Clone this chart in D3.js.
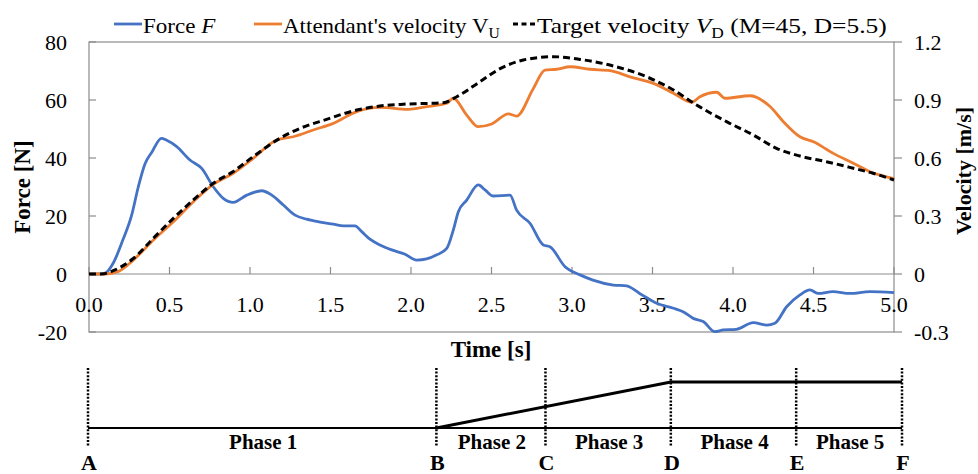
<!DOCTYPE html>
<html><head><meta charset="utf-8">
<script src="https://cdn.jsdelivr.net/npm/d3@7"></script>
<style>
body{margin:0;background:#fff}
text{font-family:"Liberation Serif","Times New Roman",serif;fill:#000}
</style>
</head><body>
<svg id="c" width="978" height="474"></svg>
<script>
// ---- data ----
const forceTime = [0,0.05,0.1,0.15,0.21,0.265,0.306,0.348,0.39,0.45,0.48,0.545,0.627,0.70,0.772,0.834,0.896,0.98,1.073,1.135,1.207,1.28,1.352,1.435,1.517,1.58,1.652,1.694,1.745,1.807,1.88,1.963,2.035,2.097,2.16,2.222,2.263,2.294,2.346,2.418,2.46,2.511,2.615,2.656,2.739,2.822,2.863,2.957,3.05,3.13,3.257,3.34,3.42,3.526,3.63,3.69,3.753,3.815,3.888,3.94,4.02,4.126,4.21,4.26,4.333,4.416,4.478,4.53,4.62,4.727,4.85,5.0];
const forceN    = [0,0,0.3,3.7,11.7,20.3,30,38,42,46.8,46.2,43.9,39.3,36.4,30.1,26.1,24.7,27.2,28.7,27.2,23.8,20.3,18.9,17.9,17.2,16.6,16.6,14.6,12,10,8.3,6.8,4.8,5.2,6.6,8.8,15.2,21.5,25.5,30.7,29,26.9,27.2,22,17.5,10,9.4,2.5,-0.3,-2.1,-3.8,-4.1,-6.7,-10.1,-11.8,-13,-15.3,-16.4,-19.9,-19.3,-19.1,-16.8,-17.6,-17,-11.3,-7.2,-5.5,-6.7,-6.1,-6.7,-6.1,-6.4];

const velTime = [0,0.1,0.18,0.275,0.40,0.524,0.648,0.772,0.896,1.02,1.166,1.269,1.393,1.517,1.663,1.807,1.983,2.097,2.222,2.263,2.346,2.418,2.501,2.605,2.656,2.76,2.832,2.905,2.988,3.112,3.236,3.36,3.505,3.63,3.743,3.795,3.899,3.95,4.106,4.23,4.313,4.416,4.5,4.623,4.747,4.851,5.0];
const velAttendant = [0,0,0.012,0.072,0.176,0.27,0.374,0.464,0.521,0.598,0.693,0.710,0.745,0.779,0.84,0.862,0.852,0.866,0.883,0.909,0.822,0.762,0.776,0.828,0.817,0.96,1.055,1.059,1.072,1.059,1.052,1.02,0.986,0.935,0.888,0.917,0.94,0.909,0.922,0.866,0.788,0.71,0.684,0.624,0.573,0.529,0.493];

const tgtTime = [0,0.08,0.15,0.275,0.40,0.524,0.648,0.772,0.896,1.02,1.186,1.31,1.476,1.663,1.807,1.973,2.2,2.284,2.429,2.553,2.698,2.884,3.05,3.257,3.464,3.63,3.774,3.96,4.126,4.27,4.416,4.58,4.747,4.87,5.0];
const velTarget = [0,0,0.017,0.08,0.185,0.288,0.383,0.469,0.53,0.607,0.702,0.753,0.80,0.848,0.869,0.879,0.886,0.917,0.995,1.062,1.107,1.124,1.11,1.076,1.02,0.952,0.874,0.788,0.719,0.65,0.61,0.581,0.547,0.521,0.486];

const timeTicks = [0,0.5,1.0,1.5,2.0,2.5,3.0,3.5,4.0,4.5,5.0];
const forceTicks = [-20,0,20,40,60,80];
const velTicks = [-0.3,0,0.3,0.6,0.9,1.2];

const phaseLetters = ["A","B","C","D","E","F"];
const phaseBounds = [0,2.14,2.81,3.58,4.35,5.0];
const phaseNames = ["Phase 1","Phase 2","Phase 3","Phase 4","Phase 5"];
const profileTime = [2.14,3.58,5.0];
const profileLevel = [0,1,1];

// ---- layout ----
const svg = d3.select("#c");
const L=89,R=894,T=42,B=332;
const x = d3.scaleLinear().domain([0,5]).range([L,R]);
const yF = d3.scaleLinear().domain([-20,80]).range([B,T]);
const yV = d3.scaleLinear().domain([-0.3,1.2]).range([B,T]);
const grey="#8c8c8c";
const FS=22;

// plot frame
svg.append("rect").attr("x",L).attr("y",T).attr("width",R-L).attr("height",B-T)
  .attr("fill","none").attr("stroke",grey).attr("stroke-width",1.2);

// left axis ticks (inside) + labels
const gl = svg.append("g");
forceTicks.forEach(v=>{
  gl.append("line").attr("x1",L).attr("x2",L+7).attr("y1",yF(v)).attr("y2",yF(v)).attr("stroke",grey).attr("stroke-width",1.2);
  gl.append("text").attr("x",67).attr("y",yF(v)).attr("dy","0.35em").attr("text-anchor","end").attr("font-size",FS)
    .text(String(v));
});
// right axis ticks (outside) + labels
velTicks.forEach(v=>{
  gl.append("line").attr("x1",R).attr("x2",R+8).attr("y1",yV(v)).attr("y2",yV(v)).attr("stroke",grey).attr("stroke-width",1.2);
  gl.append("text").attr("x",914).attr("y",yV(v)).attr("dy","0.35em").attr("text-anchor","start").attr("font-size",FS)
    .text(v===0?"0":v.toFixed(1));
});
// zero line x axis
const y0=yF(0);
svg.append("line").attr("x1",L).attr("x2",R).attr("y1",y0).attr("y2",y0).attr("stroke",grey).attr("stroke-width",1.2);
timeTicks.forEach(t=>{
  svg.append("line").attr("x1",x(t)).attr("x2",x(t)).attr("y1",y0).attr("y2",y0-7).attr("stroke",grey).attr("stroke-width",1.2);
  svg.append("text").attr("x",x(t)).attr("y",312).attr("text-anchor","middle").attr("font-size",FS).text(t.toFixed(1));
});

// axis titles
svg.append("text").attr("transform","translate(30,187) rotate(-90)").attr("text-anchor","middle")
  .attr("font-size",23).attr("font-weight","bold").text("Force [N]");
svg.append("text").attr("transform","translate(971,171) rotate(-90)").attr("text-anchor","middle")
  .attr("font-size",22).attr("font-weight","bold").text("Velocity [m/s]");
svg.append("text").attr("x",491).attr("y",357).attr("text-anchor","middle")
  .attr("font-size",23).attr("font-weight","bold").text("Time [s]");

// series
const lineF = d3.line().x((d,i)=>x(forceTime[i])).y(d=>yF(d)).curve(d3.curveMonotoneX);
const lineVa = d3.line().x((d,i)=>x(velTime[i])).y(d=>yV(d)).curve(d3.curveMonotoneX);
const lineVt = d3.line().x((d,i)=>x(tgtTime[i])).y(d=>yV(d)).curve(d3.curveMonotoneX);
svg.append("path").attr("d",lineF(forceN)).attr("fill","none").attr("stroke","#4472C4").attr("stroke-width",2.8).attr("stroke-linejoin","round");
svg.append("path").attr("d",lineVa(velAttendant)).attr("fill","none").attr("stroke","#ED7D31").attr("stroke-width",2.8).attr("stroke-linejoin","round");
svg.append("path").attr("d",lineVt(velTarget)).attr("fill","none").attr("stroke","#000").attr("stroke-width",3).attr("stroke-dasharray","7,4");

// legend (texts stretched horizontally to the reference widths)
const lg = svg.append("g");
function fit(sel, x0, width){
  const w = sel.node().getBBox().width;
  sel.attr("x",0).attr("transform",`translate(${x0},33) scale(${width/w},1)`);
}
lg.append("line").attr("x1",114).attr("x2",142).attr("y1",24).attr("y2",24).attr("stroke","#4472C4").attr("stroke-width",2.8);
const t1 = lg.append("text").attr("font-size",FS);
t1.append("tspan").text("Force ");
t1.append("tspan").attr("font-style","italic").text("F");
fit(t1,143,73);
lg.append("line").attr("x1",254).attr("x2",282).attr("y1",24).attr("y2",24).attr("stroke","#ED7D31").attr("stroke-width",2.8);
const t2 = lg.append("text").attr("font-size",FS);
t2.append("tspan").text("Attendant's velocity V");
t2.append("tspan").attr("font-size",15).attr("dy",5).text("U");
fit(t2,283,217);
lg.append("line").attr("x1",513).attr("x2",536).attr("y1",24).attr("y2",24).attr("stroke","#000").attr("stroke-width",3).attr("stroke-dasharray","5,3.5");
const t3 = lg.append("text").attr("font-size",FS);
t3.append("tspan").text("Target velocity ");
t3.append("tspan").attr("font-style","italic").text("V");
t3.append("tspan").attr("font-size",15).attr("dy",5).text("D");
t3.append("tspan").attr("dy",-5).text(" (M=45, D=5.5)");
fit(t3,537,350);

// phase diagram
const xp = d3.scaleLinear().domain([0,5]).range([88,902]);
const yp = d3.scaleLinear().domain([0,1]).range([428,382]);
const pg = svg.append("g");
pg.append("line").attr("x1",xp(0)).attr("x2",xp(5)).attr("y1",yp(0)).attr("y2",yp(0)).attr("stroke","#000").attr("stroke-width",2);
pg.append("path").attr("d",d3.line().x((d,i)=>xp(profileTime[i])).y(d=>yp(d))(profileLevel))
  .attr("fill","none").attr("stroke","#000").attr("stroke-width",3);
phaseBounds.forEach((t,i)=>{
  pg.append("line").attr("x1",xp(t)).attr("x2",xp(t)).attr("y1",368).attr("y2",447)
    .attr("stroke","#000").attr("stroke-width",2.5).attr("stroke-dasharray","2,1.6");
  pg.append("text").attr("x",xp(t)+1).attr("y",470).attr("text-anchor","middle").attr("font-size",22)
    .attr("font-weight","bold").text(phaseLetters[i]);
});
phaseNames.forEach((n,i)=>{
  pg.append("text").attr("x",(xp(phaseBounds[i])+xp(phaseBounds[i+1]))/2+1).attr("y",449).attr("text-anchor","middle")
    .attr("font-size",21).attr("font-weight","bold").text(n);
});
</script>
</body></html>
